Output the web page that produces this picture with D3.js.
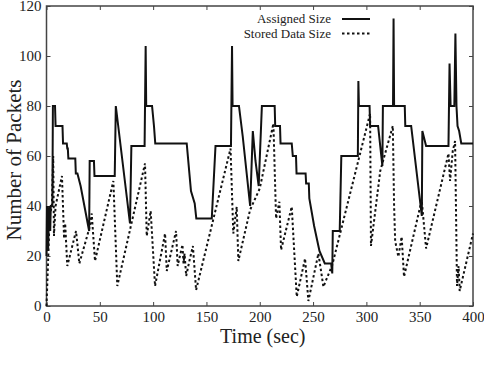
<!DOCTYPE html>
<html>
<head>
<meta charset="utf-8">
<script src="https://cdn.jsdelivr.net/npm/d3@7"></script>
<style>
  body { margin: 0; background: #fff; }
</style>
</head>
<body>
<div id="chart"></div>
<script>
// packets over time, assigned vs stored

var serif = "Liberation Serif";

// assigned size (solid line)
var assignedT = [0, 0.5, 1.5, 2.5, 3.5, 4, 5.5, 6, 8, 8.5, 15, 15.5, 19, 19.5, 20, 20.5, 27, 27.5, 29, 32, 40, 40.5, 44.5, 45, 64, 65, 78.3, 79.6,
  92, 93, 93.5, 99, 100.8, 102, 131.5, 135.5, 139, 140.5, 155, 158.5, 173, 174, 174.5, 180.5, 184, 191, 193.5, 196, 199, 202,
  214, 214.5, 219, 219.5, 230, 231, 234, 234.5, 243, 243.5, 246, 246.5, 251, 256, 261, 267, 268, 268.5, 275, 276.5,
  292, 292.5, 293, 303, 303.5, 311, 315, 315.5, 325, 325.5, 326, 336, 336.5, 342, 352, 352.5, 356, 377, 378, 379,
  382.5, 383.5, 384.5, 385.5, 387, 389, 400];
var assignedV = [20, 40, 22, 40, 30, 40, 40, 80, 80, 72, 72, 65, 65, 63, 63, 59, 59, 53, 53, 48, 30, 58, 58, 52, 52, 80, 33, 64,
  64, 104, 80, 80, 72, 65, 65, 46, 41, 35, 35, 64, 64, 104, 80, 80, 68, 40, 70, 58, 48, 80,
  80, 72, 72, 65, 65, 60, 60, 53, 53, 49, 49, 43, 32, 22, 17, 17, 13, 30, 30, 60,
  60, 90, 80, 80, 72, 72, 56, 80, 80, 115, 80, 80, 72, 72, 36, 70, 64, 64, 97, 80,
  80, 109, 80, 72, 70, 65, 65];

// stored data size (dotted line)
var storedT = [0, 3, 5, 6.3, 7, 8.5, 14.5, 16.5, 17.5, 19.5, 27.7, 30.8, 40.8, 42.4, 45.5, 62.7, 66.4, 92.4, 94, 97.7, 101.8,
  111.2, 112.8, 121.5, 123, 127.5, 128.5, 129.5, 131, 134, 137.3, 140.3, 172.6, 175.2, 178.4, 179.9, 190.9, 200, 212.8,
  215.3, 218.4, 220, 230, 234.7, 242.5, 245.6, 255, 259.7, 268, 303.5, 304.3, 313, 324.8, 326, 327, 330, 333.1, 335.3,
  351.9, 356, 377, 378.5, 381, 383.2, 385, 386.5, 387.5, 400];
var storedV = [0, 36, 40, 60, 28, 40, 52, 27, 33, 16, 30, 17, 32, 37, 18, 50, 8, 57, 28, 38, 8,
  29, 14, 30, 16, 24.5, 17, 21, 12, 18, 24, 6.4, 63, 29, 39.7, 18, 38.4, 47, 73,
  35, 41.7, 22.4, 39.7, 3.7, 19, 2, 21, 7.7, 16.4, 77, 24, 54, 72, 40, 26, 19.7, 27.7, 11.7,
  42.4, 23, 61, 50, 62, 66, 8, 16, 6, 29];

var xTicks = [0, 50, 100, 150, 200, 250, 300, 350, 400];
var yTicks = [0, 20, 40, 60, 80, 100, 120];
var legendNames = ["Assigned Size", "Stored Data Size"];

var width = 484;
var height = 366;
var margin = {left: 46.5, right: 11, top: 6, bottom: 60};

var x = d3.scaleLinear()
    .domain([0, 400])
    .range([margin.left, width - margin.right]);

var y = d3.scaleLinear()
    .domain([0, 120])
    .range([height - margin.bottom, margin.top]);

var svg = d3.select("#chart")
    .append("svg")
    .attr("width", width)
    .attr("height", height)
    .attr("font-family", serif);

var plotH = y(0) - y(120);
var plotW = x(400) - x(0);

// axes with inward ticks on every side
function styleAxis(g) {
    g.attr("font-family", serif).attr("font-size", 15);
    g.select(".domain").remove();
    g.selectAll(".tick line").attr("stroke", "#444");
    g.selectAll(".tick text").attr("fill", "#222");
}

svg.append("g")
    .attr("transform", "translate(0," + y(0) + ")")
    .call(d3.axisBottom(x).tickValues(xTicks).tickSizeInner(-4).tickSizeOuter(0).tickPadding(5))
    .call(styleAxis);

svg.append("g")
    .attr("transform", "translate(0," + y(120) + ")")
    .call(d3.axisTop(x).tickValues(xTicks).tickSizeInner(-4).tickSizeOuter(0).tickFormat(""))
    .call(styleAxis);

svg.append("g")
    .attr("transform", "translate(" + x(0) + ",0)")
    .call(d3.axisLeft(y).tickValues(yTicks).tickSizeInner(-4).tickSizeOuter(0).tickPadding(5))
    .call(styleAxis);

svg.append("g")
    .attr("transform", "translate(" + x(400) + ",0)")
    .call(d3.axisRight(y).tickValues(yTicks).tickSizeInner(-4).tickSizeOuter(0).tickFormat(""))
    .call(styleAxis);

// frame
svg.append("rect")
    .attr("x", x(0))
    .attr("y", y(120))
    .attr("width", plotW)
    .attr("height", plotH)
    .attr("fill", "none")
    .attr("stroke", "#444")
    .attr("stroke-width", 1.5);

var line = d3.line()
    .x(function(d) { return x(d[0]); })
    .y(function(d) { return y(d[1]); });

var assigned = assignedT.map(function(t, i) { return [t, assignedV[i]]; });
var stored = storedT.map(function(t, i) { return [t, storedV[i]]; });

svg.append("path")
    .datum(stored)
    .attr("d", line)
    .attr("fill", "none")
    .attr("stroke", "#111")
    .attr("stroke-width", 2)
    .attr("stroke-dasharray", "2.5,2.5");

svg.append("path")
    .datum(assigned)
    .attr("d", line)
    .attr("fill", "none")
    .attr("stroke", "#111")
    .attr("stroke-width", 2);

// legend
var legend = svg.append("g")
    .attr("font-family", serif)
    .attr("font-size", 13);

legendNames.forEach(function(name, i) {
    var ly = 19 + i * 14.5;
    legend.append("text")
        .attr("x", 331)
        .attr("y", ly + 4)
        .attr("text-anchor", "end")
        .attr("fill", "#222")
        .text(name);
    legend.append("line")
        .attr("x1", 342)
        .attr("x2", 370)
        .attr("y1", ly)
        .attr("y2", ly)
        .attr("stroke", "#111")
        .attr("stroke-width", 2)
        .attr("stroke-dasharray", i == 1 ? "2.5,2.5" : null);
});

// axis titles
svg.append("text")
    .attr("x", (x(0) + x(400)) / 2 + 3)
    .attr("y", 343)
    .attr("text-anchor", "middle")
    .attr("font-family", serif)
    .attr("font-size", 20)
    .attr("fill", "#222")
    .text("Time (sec)");

svg.append("text")
    .attr("transform", "translate(21,160) rotate(-90)")
    .attr("text-anchor", "middle")
    .attr("font-family", serif)
    .attr("font-size", 21)
    .attr("fill", "#222")
    .text("Number of Packets");
</script>
</body>
</html>
